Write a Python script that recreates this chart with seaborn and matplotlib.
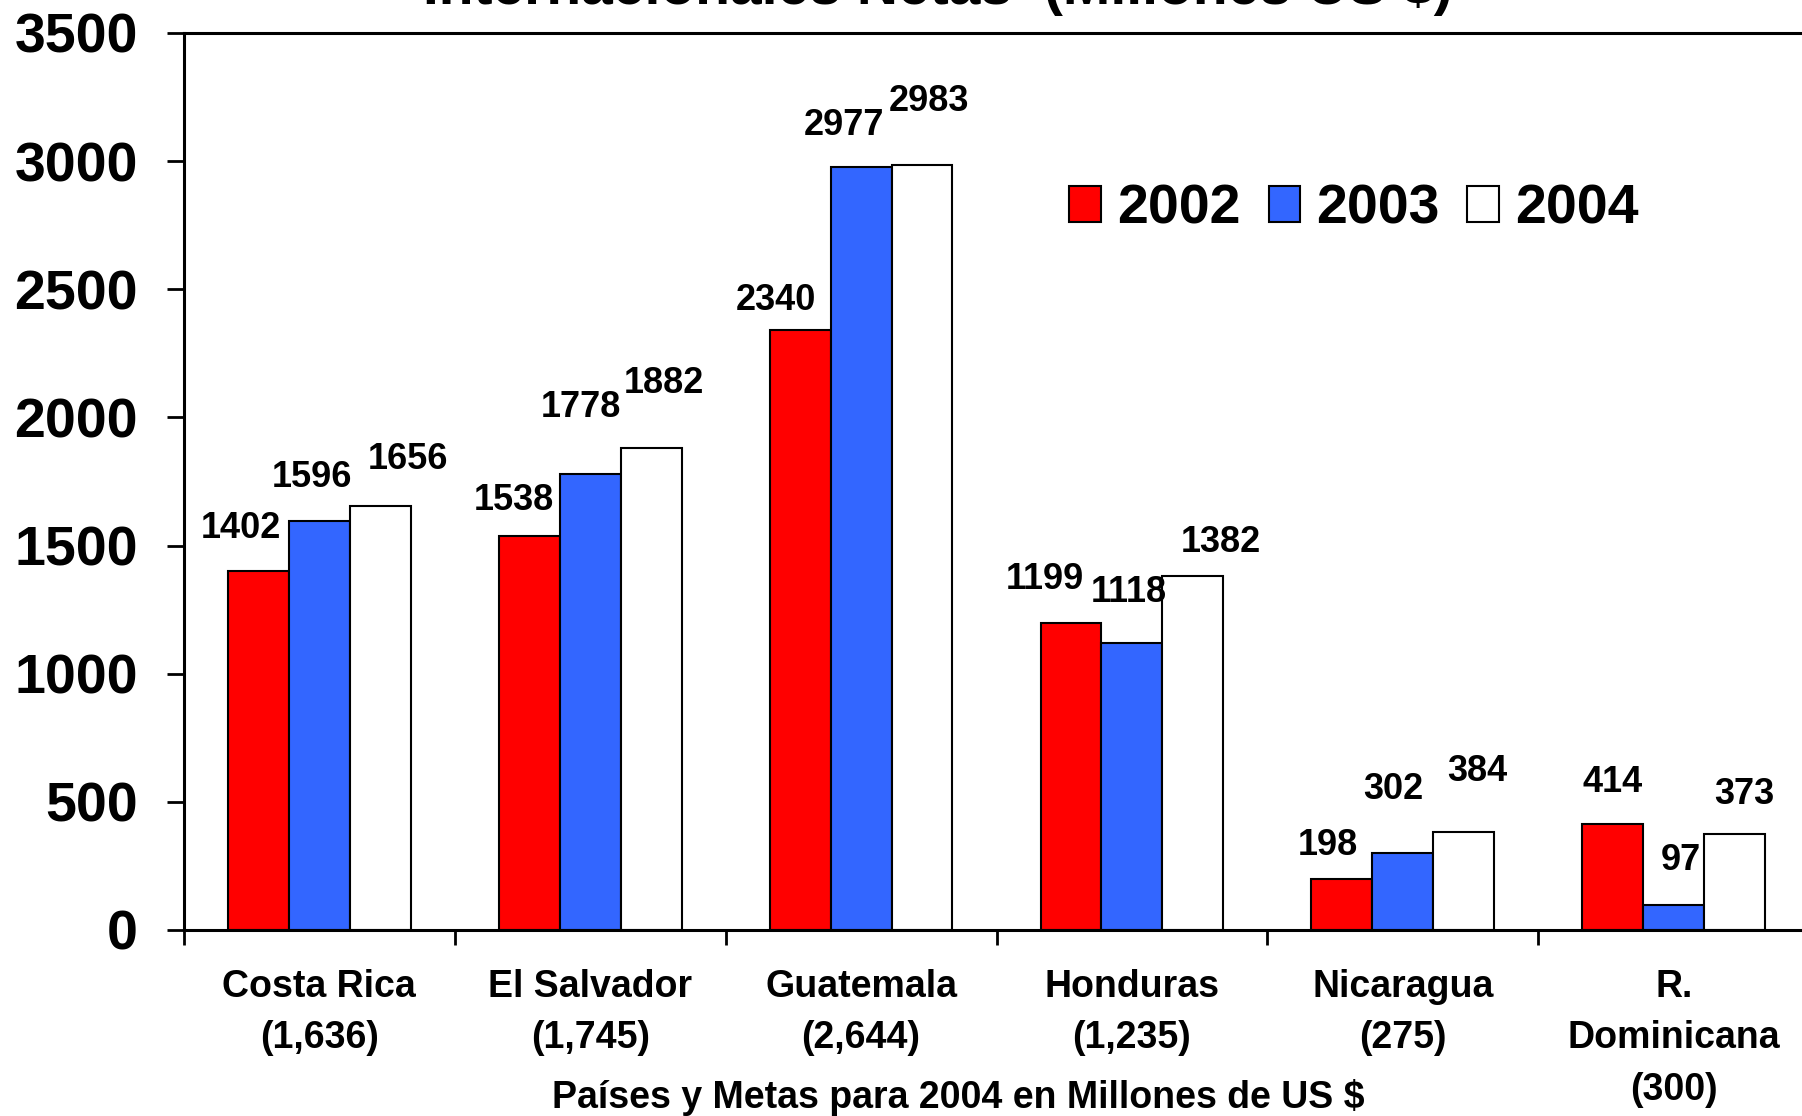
import numpy as np
import pandas as pd
import matplotlib
matplotlib.use("Agg")
import matplotlib.pyplot as plt
import seaborn as sns

# data
countries = ["Costa Rica\n(1,636)", "El Salvador\n(1,745)", "Guatemala\n(2,644)",
             "Honduras\n(1,235)", "Nicaragua\n(275)", "R.\nDominicana\n(300)"]
years = ["2002", "2003", "2004"]
vals_2002 = [1402, 1538, 2340, 1199, 198, 414]
vals_2003 = [1596, 1778, 2977, 1118, 302, 97]
vals_2004 = [1656, 1882, 2983, 1382, 384, 373]
yticks = [0, 500, 1000, 1500, 2000, 2500, 3000, 3500]

# where the value labels sit relative to bar tops (px, hand placed like the original)
label_dx = [[-15, -13, -21, -23, -12, 0],
            [-6, -8, -15, -3, -8, 6],
            [24, 11, 6, 24, 12, 8]]
label_dy = [[37, 31, 26, 38, 29, 36],
            [38, 58, 36, 44, 55, 39],
            [40, 56, 56, 29, 52, 35]]

df = pd.DataFrame({
    "pais": countries * 3,
    "anio": [y for y in years for _ in countries],
    "valor": vals_2002 + vals_2003 + vals_2004,
})

sns.set_style("white")
plt.rcParams["font.family"] = ["Liberation Sans", "DejaVu Sans"]
plt.rcParams["font.weight"] = "bold"
for k in ["text.color", "axes.labelcolor", "xtick.color", "ytick.color"]:
    plt.rcParams[k] = "black"

colors = {"2002": "#FF0000", "2003": "#3366FF", "2004": "#FFFFFF"}

fig = plt.figure(figsize=(18.02, 11.16), dpi=100)
ax = fig.add_axes([0.102, 0.1667, 0.902, 0.8038])

sns.barplot(data=df, x="pais", y="valor", hue="anio", palette=colors,
            width=0.675, gap=0, edgecolor="black", linewidth=1.5,
            saturation=1, ax=ax, legend=True)

ax.set_ylim(0, 3500)
ax.set_xlim(-0.5, 5.5)
ax.set_yticks(yticks)
ax.set_yticklabels([str(t) for t in yticks], fontsize=40, fontweight="bold")
ax.tick_params(axis="y", left=True, length=12, width=2, pad=21, direction="out")
ax.set_xticks(range(len(countries)))
ax.set_xticklabels(countries, fontsize=27, fontweight="bold", linespacing=1.55, va="top")
ax.tick_params(axis="x", which="major", bottom=True, length=0, pad=28)
ax.set_xticks(np.arange(-0.5, 6, 1), minor=True)
ax.tick_params(axis="x", which="minor", bottom=True, length=11, width=2, direction="out")
ax.set_ylabel("")
ax.set_xlabel("")

for side in ["left", "bottom", "top"]:
    ax.spines[side].set_visible(True)
    ax.spines[side].set_linewidth(2.2)
    ax.spines[side].set_color("black")
ax.spines["right"].set_visible(False)

# value labels
for i, cont in enumerate(ax.containers):
    for j, bar in enumerate(cont):
        h = bar.get_height()
        ax.annotate(str(int(h)), (bar.get_x() + bar.get_width() / 2, h),
                    xytext=(label_dx[i][j] * 1.149, label_dy[i][j] * 1.149),
                    textcoords="offset pixels", ha="center", va="center",
                    fontsize=26, fontweight="bold")

handles, labels = ax.get_legend_handles_labels()
ax.get_legend().remove()
leg = fig.legend(handles, labels, loc="center left", bbox_to_anchor=(0.5935, 0.812),
                 ncol=3, frameon=False, fontsize=40, handlelength=0.56,
                 handleheight=0.62, handletextpad=0.3, columnspacing=0.5,
                 borderaxespad=0, borderpad=0)
for t in leg.get_texts():
    t.set_fontweight("bold")

fig.text(0.532, 0.017, "Países y Metas para 2004 en Millones de US $",
         ha="center", va="center", fontsize=27, fontweight="bold")

fig.text(0.5205, 1 - 4 / 1116, "Internacionales Netas  (Millones US $)",
         ha="center", va="baseline", fontsize=41, fontweight="bold")

fig.savefig("out.png", dpi=100)
